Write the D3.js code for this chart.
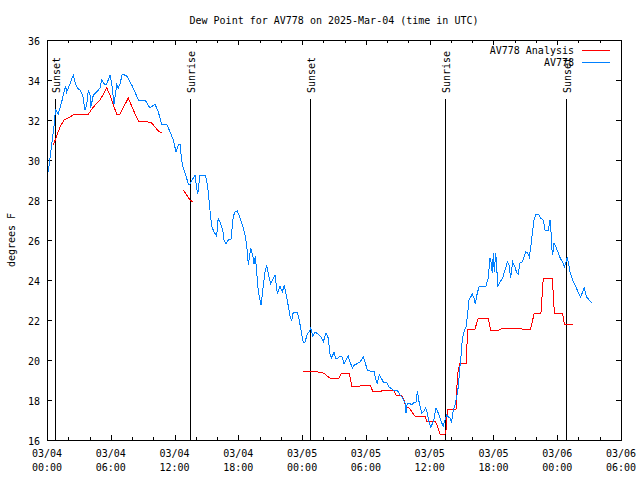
<!DOCTYPE html>
<html><head><meta charset="utf-8">
<script src="https://cdn.jsdelivr.net/npm/d3@7"></script>
<style>
body{margin:0;background:#fff}
svg{display:block}
text{font-family:"DejaVu Sans Mono",monospace;font-size:10px;fill:#000}
</style>
</head><body><svg id="c" width="640" height="480"></svg>
<script>
// ---------------- DATA ----------------
const chartTitle = "Dew Point for AV778 on 2025-Mar-04 (time in UTC)";
const yLabel = "degrees F";
const startUTC = Date.UTC(2025, 2, 4, 0, 0);
const endUTC = Date.UTC(2025, 2, 6, 6, 0);
// hours since 2025-03-04 00:00 UTC
const obsHours = [0.12,0.28,0.50,0.66,0.75,0.82,1.06,1.38,1.53,1.76,1.85,2.16,2.47,2.63,2.85,3.10,3.36,3.57,3.73,3.89,4.05,4.11,4.36,4.68,4.83,4.99,5.15,5.46,5.62,5.93,6.09,6.30,6.56,6.71,6.87,7.08,7.50,7.97,8.28,8.59,9.22,9.69,10.16,10.47,10.79,11.26,11.73,
11.88,12.14,12.35,12.51,12.67,12.82,13.08,13.29,13.45,13.92,14.08,14.18,14.39,14.86,15.02,15.17,15.33,15.49,15.71,15.96,16.11,16.27,16.53,16.65,16.84,17.06,17.31,17.53,17.69,17.90,18.16,18.41,18.63,18.79,18.94,19.16,19.35,19.47,19.60,19.73,19.88,20.13,20.35,20.51,20.67,20.82,21.04,21.45,21.67,21.92,22.14,22.32,22.48,22.70,22.86,
23.02,23.17,23.55,23.73,23.96,24.11,24.27,24.49,24.65,24.81,25.00,25.21,25.52,25.84,25.99,26.25,26.46,26.62,26.78,27.00,27.16,27.40,27.56,27.78,27.94,28.13,28.34,28.50,28.75,28.97,29.13,29.44,29.76,29.92,30.13,30.39,30.76,30.95,31.07,31.26,31.39,31.64,31.96,32.17,32.58,32.90,33.05,33.21,33.46,33.68,33.77,33.89,34.08,34.31,34.46,34.71,34.84,35.02,35.25,35.40,35.63,35.78,35.96,36.10,36.25,36.43,36.59,36.81,36.97,37.13,37.28,37.44,37.60,37.75,37.91,38.07,38.22,38.38,38.54,38.69,38.85,39.01,39.06,39.22,39.42,39.54,39.70,
39.86,40.01,40.17,40.29,40.48,40.67,41.30,41.51,41.67,41.77,41.89,41.99,42.08,42.21,42.31,42.40,42.62,42.87,43.09,43.31,43.46,43.62,43.81,44.03,44.19,44.34,44.50,44.71,44.87,45.03,45.22,45.37,45.53,45.65,45.81,46.00,46.22,46.44,46.69,46.85,47.16,47.32,47.39,47.48,47.57,47.70,47.88,48.10,48.32,48.51,48.66,48.82,48.95,49.04,49.20,49.45,49.67,49.88,50.20,50.39,50.54,50.76,51.01,51.23];
const obsDewF = [29.4,30.1,31.0,31.7,32.25,32.5,32.3,32.9,33.25,33.7,33.4,33.8,34.25,33.9,33.6,33.5,33.25,32.5,32.75,33.5,33.25,32.6,33.25,33.4,33.5,33.6,34.0,33.75,33.8,34.25,33.8,32.8,33.75,33.6,33.8,34.3,34.2,33.75,33.4,33.0,33.0,32.6,32.8,32.4,31.8,31.8,31.2,
31.0,30.4,30.75,30.8,30.0,29.6,29.2,28.8,28.8,29.25,28.6,28.3,29.25,29.25,29.0,28.4,27.5,26.7,26.4,26.2,27.1,26.9,26.5,26.0,25.8,26.0,26.05,27.2,27.4,27.45,27.1,26.7,26.25,25.7,24.75,25.6,25.25,24.8,25.2,24.4,23.4,22.75,23.7,24.4,24.75,24.3,23.8,24.25,23.3,23.7,23.4,23.75,23.3,22.7,22.2,
21.95,22.4,22.4,22.0,21.3,20.9,20.9,21.3,21.4,21.6,21.2,21.4,21.3,21.1,20.9,21.35,21.1,20.3,20.1,20.4,20.1,20.1,20.2,20.15,19.8,20.0,20.2,19.9,19.6,19.8,19.8,19.9,20.15,19.9,19.5,19.45,19.45,19.0,18.85,19.25,19.15,18.9,18.9,18.65,18.5,18.5,18.4,18.25,18.1,17.85,17.35,17.85,17.85,17.75,17.85,17.9,18.45,17.85,17.35,17.4,17.6,17.35,16.85,16.65,16.8,17.1,17.6,17.35,17.1,16.85,16.7,17.0,17.25,17.15,17.1,16.9,17.5,17.75,18.15,18.65,19.65,20.5,21.0,21.4,21.65,22.15,23.0,
23.15,23.3,23.1,22.8,23.35,23.7,23.7,24.1,25.1,24.9,24.35,25.35,24.4,25.35,24.65,23.7,23.9,24.1,24.5,24.9,24.75,24.1,24.9,24.65,24.35,24.3,24.85,24.9,25.15,25.4,25.35,25.15,25.75,26.3,27.0,27.3,27.3,27.1,27.0,26.5,26.5,27.0,26.7,25.65,25.25,25.85,25.65,25.35,25.05,24.9,24.65,24.9,25.15,24.9,24.4,24.0,23.75,23.5,23.15,23.4,23.6,23.15,23.0,22.85];
// analysis (null = gap)
const anaHours = [0.59,0.91,1.22,1.60,2.16,2.63,3.89,4.36,4.99,5.62,5.93,6.30,6.61,6.87,7.65,8.12,8.59,9.53,9.85,10.16,10.47,10.79,
null,12.82,13.45,13.76,
null,24.05,25.37,25.52,26.00,26.62,27.47,27.72,28.44,28.67,29.44,29.60,30.39,30.64,31.49,31.58,32.58,32.83,33.37,33.58,33.77,33.99,34.62,35.56,35.72,36.50,36.72,36.97,37.44,37.60,37.66,38.48,38.54,38.60,38.85,39.48,39.54,40.26,40.57,41.51,41.74,42.55,42.68,43.56,44.56,44.66,45.50,45.84,46.47,46.69,47.54,47.73,48.51,48.66,49.51];
const anaDewF = [30.75,31.2,31.65,32.0,32.15,32.3,32.3,32.65,33.0,33.6,33.25,32.65,32.25,32.3,33.1,32.5,31.95,31.9,31.85,31.65,31.45,31.35,
null,28.5,28.0,27.9,
null,19.45,19.45,19.4,19.35,19.1,19.1,19.35,19.35,18.7,18.7,18.75,18.75,18.45,18.45,18.5,18.5,18.25,18.25,18.0,17.65,17.65,17.2,17.2,16.95,16.95,16.7,16.3,16.3,16.65,17.55,17.55,18.15,19.25,19.85,19.85,21.5,21.55,22.1,22.1,21.5,21.5,21.55,21.6,21.6,21.55,21.55,22.35,22.35,24.1,24.1,22.35,22.35,21.8,21.8];
const sunHours = [0.82, 13.52, 24.81, 37.47, 48.85];
const sunLabels = ["Sunset", "Sunrise", "Sunset", "Sunrise", "Sunset"];
const yTicks = [16,18,20,22,24,26,28,30,32,34,36];
const xMajorHours = [0,6,12,18,24,30,36,42,48,54];
const xMinorHours = [2,4,8,10,14,16,20,22,26,28,32,34,38,40,44,46,50,52];
const legendLabels = ["AV778 Analysis", "AV778"];
const seriesColors = ["#ff0000", "#0080ff"];

// ---------------- CHART ----------------
const L = 47, R = 621, T = 40, B = 440;
const svg = d3.select("#c");
const toDate = h => new Date(startUTC + h * 3600e3);
const x = d3.scaleUtc().domain([new Date(startUTC), new Date(endUTC)]).range([L, R]);
const y = d3.scaleLinear().domain([16, 36]).range([B, T]);

const crisp = g => g.attr("shape-rendering", "crispEdges");

// ticks (inward, mirrored)
const majors = xMajorHours.map(toDate), minors = xMinorHours.map(toDate);
function xAxes(axisFn, ypos, vals, size) {
  const g = svg.append("g").attr("transform", `translate(0,${ypos})`)
    .call(axisFn(x).tickValues(vals).tickSize(-size).tickFormat(""));
  g.select(".domain").remove();
  g.selectAll("line").attr("stroke", "#000");
  crisp(g);
  return g;
}
xAxes(d3.axisBottom, B, majors, 5);
xAxes(d3.axisBottom, B, minors, 3);
xAxes(d3.axisTop, T, majors, 5);
xAxes(d3.axisTop, T, minors, 3);

const gl = svg.append("g").attr("transform", `translate(${L},0)`)
  .call(d3.axisLeft(y).tickValues(yTicks).tickSize(-5).tickPadding(7).tickFormat(d3.format("d")));
gl.select(".domain").remove();
gl.selectAll("line").attr("stroke", "#000");
gl.selectAll("text").attr("font-family", "DejaVu Sans Mono").attr("font-size", 10).attr("dy", "0.4em");
crisp(gl);
const gr = svg.append("g").attr("transform", `translate(${R},0)`)
  .call(d3.axisRight(y).tickValues(yTicks).tickSize(-5).tickFormat(""));
gr.select(".domain").remove();
gr.selectAll("line").attr("stroke", "#000");
crisp(gr);

// x labels (two lines)
const fmtD = d3.utcFormat("%m/%d"), fmtT = d3.utcFormat("%H:%M");
const xl = svg.append("g").selectAll("text").data(majors).join("text")
  .attr("text-anchor", "middle").attr("x", d => x(d));
xl.append("tspan").attr("x", d => x(d)).attr("y", 457).text(fmtD);
xl.append("tspan").attr("x", d => x(d)).attr("y", 471).text(fmtT);

// border
svg.append("rect").attr("x", L).attr("y", T).attr("width", R - L).attr("height", B - T)
  .attr("fill", "none").attr("stroke", "#000").attr("shape-rendering", "crispEdges");

// sun lines
const sun = svg.append("g").selectAll("g").data(sunHours).join("g");
sun.append("line").attr("x1", d => Math.floor(x(toDate(d))) + 0.5).attr("x2", d => Math.floor(x(toDate(d))) + 0.5)
  .attr("y1", 99).attr("y2", B).attr("stroke", "#000").attr("shape-rendering", "crispEdges");
sun.append("text").attr("transform", d => `translate(${Math.floor(x(toDate(d))) + 1},93) rotate(-90)`)
  .attr("dy", "0.35em").text((d, i) => sunLabels[i]);

// series
const line = d3.line().defined(d => d[0] != null && d[1] != null)
  .x(d => x(toDate(d[0]))).y(d => y(d[1]));
const ana = anaHours.map((h, i) => [h, anaDewF[i]]);
const obs = obsHours.map((h, i) => [h, obsDewF[i]]);
svg.append("path").datum(ana).attr("d", line).attr("fill", "none").attr("stroke", seriesColors[0])
  .attr("stroke-width", 1).attr("shape-rendering", "crispEdges");
svg.append("path").datum(obs).attr("d", line).attr("fill", "none").attr("stroke", seriesColors[1])
  .attr("stroke-width", 1).attr("shape-rendering", "crispEdges");

// legend
const lg = svg.append("g").selectAll("g").data(legendLabels).join("g")
  .attr("transform", (d, i) => `translate(0,${50 + i * 12.5})`);
lg.append("text").attr("x", 574).attr("text-anchor", "end").attr("dy", "0.35em").text(d => d);
lg.append("line").attr("x1", 582).attr("x2", 610).attr("y1", 0).attr("y2", 0)
  .attr("stroke", (d, i) => seriesColors[i]).attr("shape-rendering", "crispEdges");

// title & y label
svg.append("text").attr("x", 334).attr("y", 24).attr("text-anchor", "middle").text(chartTitle);
svg.append("text").attr("transform", "translate(11,240) rotate(-90)").attr("text-anchor", "middle")
  .attr("dy", "0.35em").text(yLabel);
</script>
</body></html>
